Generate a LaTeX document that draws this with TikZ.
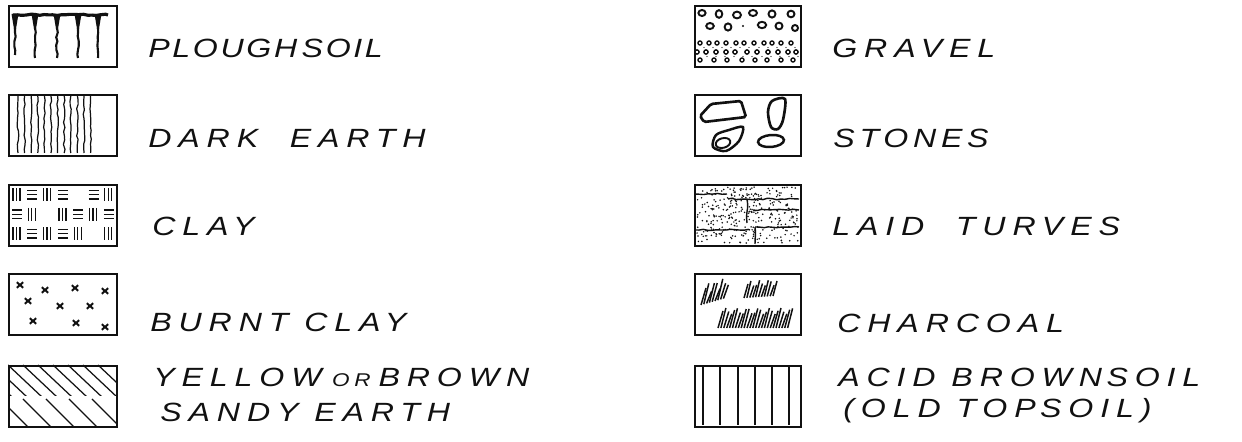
\documentclass[tikz,border=0pt]{standalone}
\usepackage{fontspec}
\usepackage{xcolor}
\usepackage{tikz}
\usetikzlibrary{decorations.pathmorphing, positioning}
\setmainfont{Liberation Sans}
\newfontfamily\handfont{Liberation Sans}[LetterSpace=26, FakeStretch=1.22]
\definecolor{ink}{HTML}{111111}

\begin{document}
\begin{tikzpicture}[x=0.02cm, y=-0.02cm,
    every node/.style={inner sep=0pt},
    swatch/.style={draw=ink, line width=1.1pt, anchor=north west,
                   minimum width=2.16cm, minimum height=1.22cm},
    swatchnarrow/.style={swatch, minimum width=2.12cm},
    legtext/.style={anchor=base west, text=ink,
                    font=\handfont\itshape\fontsize{15}{18}\selectfont},
    hatch/.style={draw=ink, line width=0.7pt},
    charstroke/.style={draw=ink, line width=0.85pt},
    wobbly/.style={decorate, decoration={random steps, segment length=2.5pt, amplitude=0.45pt}}
]
    \useasboundingbox (0,0) rectangle (1242,442);
    \pgfmathsetseed{7}

    % Left column: swatches
    \node[swatch] (plough) at (8,5) {};
    \node[swatch] (darkearth) at (8,94) {};
    \node[swatch] (clay) at (8,184) {};
    \node[swatch] (burnt) at (8,273) {};
    \node[swatch] (sandy) at (8,365) {};

    % Right column: swatches
    \node[swatchnarrow] (gravel) at (694,5) {};
    \node[swatchnarrow] (stones) at (694,94) {};
    \node[swatchnarrow] (turves) at (694,184) {};
    \node[swatchnarrow] (charcoal) at (694,273) {};
    \node[swatchnarrow] (acid) at (694,365) {};

    % Ploughsoil: bar with drips
    \draw[ink, line width=1.8pt, wobbly] (13,15) -- (108,15);
    \foreach \dx/\len in {15/55, 35/58, 57/58, 78/58, 98/58} {
        \fill[ink] (\dx-3.5,14) -- (\dx+3.5,14) -- (\dx+0.8,30) -- (\dx-0.8,30) -- cycle;
        \draw[ink, line width=1.2pt, wobbly] (\dx,28) -- (\dx,\len);
    }

    % Dark earth: wavy verticals
    \foreach \i in {0,...,11}
        \draw[hatch, wobbly] ({18+6.6*\i},96) -- ({18+6.6*\i},153);

    % Clay: basket weave, a few cells left open
    \foreach \i in {0,...,6} {
        \foreach \j in {0,1,2} {
            \pgfmathtruncatemacro\kind{mod(\i+\j,2)}
            \pgfmathtruncatemacro\blank{(\i==2 && \j==1) || (\i==4 && \j==0) || (\i==5 && \j==2)}
            \ifnum\blank=0
            \ifnum\kind=0
                \foreach \k in {4,7.5,11}
                    \draw[hatch] ({9+15.3*\i+\k},{185+19.5*\j+3.5}) -- ++(0,13);
            \else
                \foreach \k in {5.5,9.75,14}
                    \draw[hatch] ({9+15.3*\i+3},{185+19.5*\j+\k}) -- ++(10,0);
            \fi
            \fi
        }
    }

    % Burnt clay: crosses
    \foreach \cx/\cy in {20/285, 45/290, 75/288, 105/291, 28/301, 60/306,
                         90/306, 33/321, 76/323, 105/327}
        \draw[ink, line width=1.1pt] (\cx-3.2,\cy-2.8) -- (\cx+3.2,\cy+2.8)
                                     (\cx-3.2,\cy+2.8) -- (\cx+3.2,\cy-2.8);

    % Yellow or brown sandy earth: broken diagonals
    \begin{scope}
        \clip (8,365) rectangle (116,396);
        \foreach \x in {-22,-7,...,110} \draw[hatch] (\x,365) -- ++(34,32);
    \end{scope}
    \begin{scope}
        \clip (8,399) rectangle (116,426);
        \foreach \x in {0,23,...,110} \draw[hatch] (\x,399) -- ++(28,28);
    \end{scope}

    % Gravel: pebbles over small stones
    \foreach \px/\py/\rx/\ry in {702/13/3.6/3, 719/14/3.3/3.8, 737/15/4/3.4, 753/13/4/3,
                                 772/14/3.5/3.6, 791/14/3.5/3.3, 710/26/3.8/3,
                                 728/27/3.4/3.6, 762/25/4.2/3.2, 779/26/3.5/3.4, 795/28/3/3}
        \draw[ink, line width=1.1pt] (\px,\py) ellipse [x radius=\rx, y radius=\ry];
    \fill[ink] (743,26) circle [radius=1.2];
    \foreach \px in {700,709,717,726,736,744,754,764,772,781,791}
        \draw[ink, line width=0.8pt] (\px,43) circle [radius=2];
    \foreach \px in {697,706,716,726,735,747,757,768,778,788,796}
        \draw[ink, line width=0.8pt] (\px,52) circle [radius=2.1];
    \foreach \px in {700,714,727,742,755,767,781,793}
        \draw[ink, line width=0.8pt] (\px,60) circle [radius=2];
    \foreach \px in {704,713,722,731,740,749,759,768,777,786,795}
        \fill[ink] (\px,47.5) circle [radius=0.7] (\px+3,56.5) circle [radius=0.7];

    % Stones
    \draw[ink, line width=1.5pt, rounded corners=1pt]
        (711,104) -- (741,101) -- (746,117) -- (704,122) -- (700,116) -- cycle;
    \draw[ink, line width=1.5pt] plot[smooth cycle] coordinates
        {(772,101) (785,99) (783,120) (778,129) (771,127) (768,112)};
    \draw[ink, line width=1.4pt] plot[smooth cycle] coordinates
        {(713,147) (716,135) (729,130) (743,127) (739,141) (726,151)};
    \draw[ink, line width=1.1pt, rotate around={15:(723,143)}]
        (723,143) ellipse [x radius=7.5, y radius=4.8];
    \draw[ink, line width=1.4pt, rotate around={5:(771,141)}]
        (771,141) ellipse [x radius=13, y radius=6];

    % Laid turves: stipple with joints
    \foreach \k in {1,...,330} {
        \pgfmathsetmacro\px{697+101*rnd}
        \pgfmathsetmacro\py{187+56*rnd}
        \fill[ink] (\px,\py) circle [radius=0.85];
    }
    \draw[ink, line width=0.8pt, wobbly] (695,194) -- (727,194);
    \draw[ink, line width=0.8pt, wobbly] (728,199) -- (799,199);
    \draw[ink, line width=0.8pt, wobbly] (747,199) -- (747,223);
    \draw[ink, line width=0.8pt, wobbly] (695,230) -- (750,230);
    \draw[ink, line width=0.8pt, wobbly] (755,227) -- (799,227);
    \draw[ink, line width=0.8pt, wobbly] (755,227) -- (755,244);
    \draw[ink, line width=0.8pt, wobbly] (753,210) -- (799,210);

    % Charcoal: hatched lumps
    \foreach \i in {0,...,8} {
        \pgfmathsetmacro\len{17+5*sin(\i*130)}
        \draw[charstroke] ({701+2.8*\i},{305-0.8*\i}) -- ++(5,-\len);
    }
    \foreach \i in {0,...,10} {
        \pgfmathsetmacro\len{14+3*sin(\i*110)}
        \draw[charstroke] ({744+2.9*\i},{298-0.2*\i}) -- ++(4,-\len);
    }
    \foreach \i in {0,...,24} {
        \pgfmathsetmacro\len{17+3*sin(\i*95)}
        \draw[charstroke] ({718+2.9*\i},328) -- ++(5,-\len);
    }

    % Acid brown soil: verticals
    \foreach \x in {703,720,738,755,772,789}
        \draw[ink, line width=0.6pt] (\x,366) -- (\x,425);

    % Labels
    \node[legtext] (ploughtxt) at (148,58) {\addfontfeature{LetterSpace=10}PLOUGH\,SOIL};
    \node[legtext] (darktxt) at (148,148) {DARK\ \ EARTH};
    \node[legtext] (claytxt) at (152,236) {CLAY};
    \node[legtext] (burnttxt) at (150,332) {BURNT\ CLAY};
    \node[legtext] (yellowtxt) at (153,387)
        {YELLOW\hspace{0.4em}{\fontsize{10.5}{12}\selectfont OR}\hspace{0.3em}BROWN};
    \node[legtext] (sandytxt) at (160,422) {SANDY\ EARTH};
    \node[legtext] (graveltxt) at (832,58) {GRAVEL};
    \node[legtext] (stonestxt) at (833,148) {\addfontfeature{LetterSpace=18}STONES};
    \node[legtext] (turvestxt) at (832,236) {LAID\ \ TURVES};
    \node[legtext] (charcoaltxt) at (837,333) {CHARCOAL};
    \node[legtext] (acidtxt) at (838,387) {ACID\ BROWN\,SOIL};
    \node[legtext] (oldtxt) at (843,418) {(OLD\ TOP\,SOIL)};
\end{tikzpicture}
\end{document}
